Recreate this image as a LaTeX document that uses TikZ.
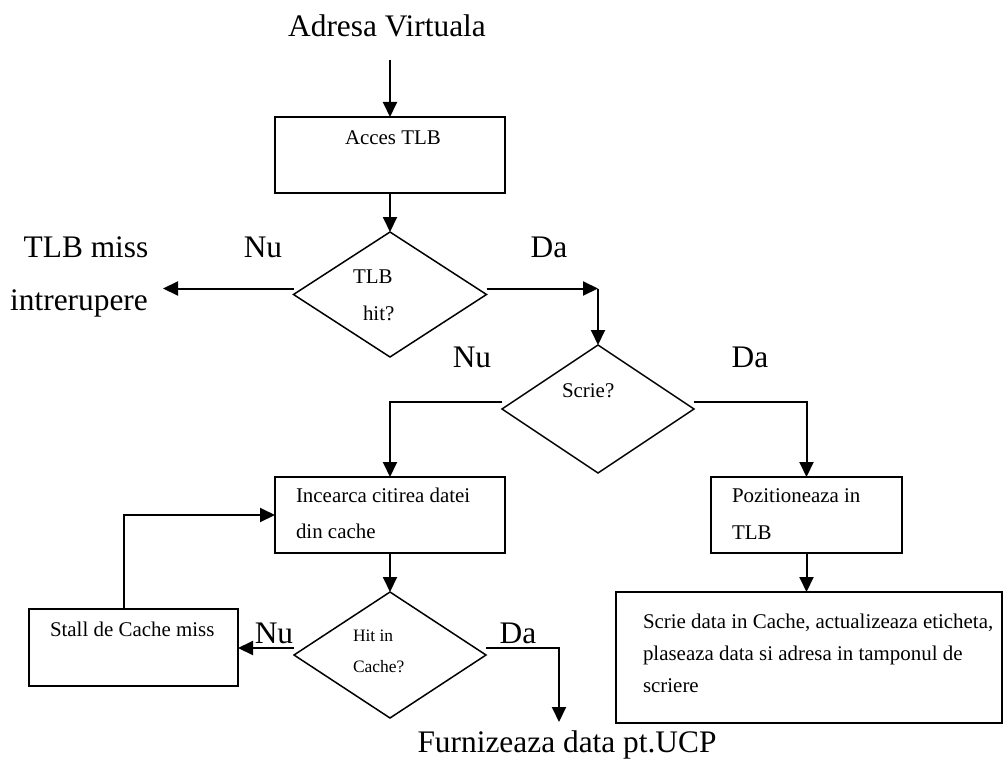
\documentclass[tikz,border=0pt]{standalone}
\usepackage{fontspec}
\setmainfont{Liberation Serif}
\usetikzlibrary{arrows.meta,shapes.geometric,calc}
\begin{document}
\begin{tikzpicture}[x=1bp,y=-1bp,
  every node/.style={inner sep=0pt,outer sep=0pt},
  box/.style={draw,rectangle,line width=1.8bp},
  dec/.style={draw,diamond,line width=1.5bp},
  arr/.style={line width=2bp,-{Triangle[length=15bp,width=14bp]}},
  bigt/.style={font=\fontsize{31.5}{38}\selectfont,anchor=base},
  midt/.style={font=\fontsize{21}{25}\selectfont,anchor=base west},
  smallt/.style={font=\fontsize{17.5}{21}\selectfont,anchor=base west}]
\useasboundingbox (0,0) rectangle (1005,761);

% process boxes
\node[box,minimum width=230bp,minimum height=76bp] (acc) at (390,155) {};
\node[box,minimum width=230bp,minimum height=76bp] (inc) at (390,515) {};
\node[box,minimum width=191bp,minimum height=76bp] (poz) at (806.5,515) {};
\node[box,minimum width=386bp,minimum height=131bp] (wr) at (809,657.5) {};
\node[box,minimum width=209bp,minimum height=77bp] (stall) at (133.5,647.5) {};

% decisions
\node[dec,minimum width=193bp,minimum height=125bp] (d1) at (390,294.5) {};
\node[dec,minimum width=192bp,minimum height=128bp] (d2) at (598,409) {};
\node[dec,minimum width=192bp,minimum height=126bp] (d3) at (390,655) {};

% texts
\node[bigt] (title) at (387,37) {Adresa Virtuala};
\node[bigt] (tlbm) at (86,257) {TLB miss};
\node[bigt] (intr) at (79,310) {intrerupere};
\node[bigt] (n1) at (263,257) {Nu};
\node[bigt] (y1) at (549,257) {Da};
\node[bigt] (n2) at (472,367) {Nu};
\node[bigt] (y2) at (750,367) {Da};
\node[bigt] (n3) at (274,643) {Nu};
\node[bigt] (y3) at (518,643) {Da};
\node[bigt] (furn) at (567,752) {Furnizeaza data pt.UCP};

\node[midt] (acct) at (345,144) {Acces TLB};
\node[midt] (d1a) at (353,283) {TLB};
\node[midt] (d1b) at (363,320) {hit?};
\node[midt] (d2t) at (562,397) {Scrie?};
\node[midt] (inca) at (296,502) {Incearca citirea datei};
\node[midt] (incb) at (296,538) {din cache};
\node[midt] (poza) at (732,502) {Pozitioneaza in};
\node[midt] (pozb) at (732,539) {TLB};
\node[midt] (wra) at (643,628) {Scrie data in Cache, actualizeaza eticheta,};
\node[midt] (wrb) at (643,660) {plaseaza data si adresa in tamponul de};
\node[midt] (wrc) at (643,692) {scriere};
\node[midt] (stt) at (50,636) {Stall de Cache miss};
\node[smallt] (d3a) at (353,641) {Hit in};
\node[smallt] (d3b) at (353,672) {Cache?};

% connector points
\coordinate (t0) at (390,60);
\coordinate (miss) at (163,0);
\coordinate (d1w) at ($(d1.west)+(0,-6)$);
\coordinate (d1e) at ($(d1.east)+(0,-6)$);
\coordinate (d2w) at ($(d2.west)+(0,-7)$);
\coordinate (d2e) at ($(d2.east)+(0,-7)$);
\coordinate (d3w) at ($(d3.west)+(0,-7)$);
\coordinate (d3e) at ($(d3.east)+(0,-7)$);
\coordinate (st) at ($(stall.north)+(-9.5,0)$);
\coordinate (out) at (559,722);

% connectors
\draw[arr] (t0) -- (acc.north);
\draw[arr] (acc.south) -- (d1.north);
\draw[arr] (d1w) -- (d1w -| miss);
\draw[arr] (d1e) -- (d1e -| d2.north);
\draw[arr] (d1e -| d2.north) -- (d2.north);
\draw[arr] (d2w) -| (inc.north);
\draw[arr] (d2e) -| (poz.north);
\draw[arr] (poz.south) -- (poz.south |- wr.north);
\draw[arr] (inc.south) -- (d3.north);
\draw[arr] (d3w) -- (d3w -| stall.east);
\draw[arr] (st) |- (inc.west);
\draw[arr] (d3e) -| (out);
\end{tikzpicture}
\end{document}
